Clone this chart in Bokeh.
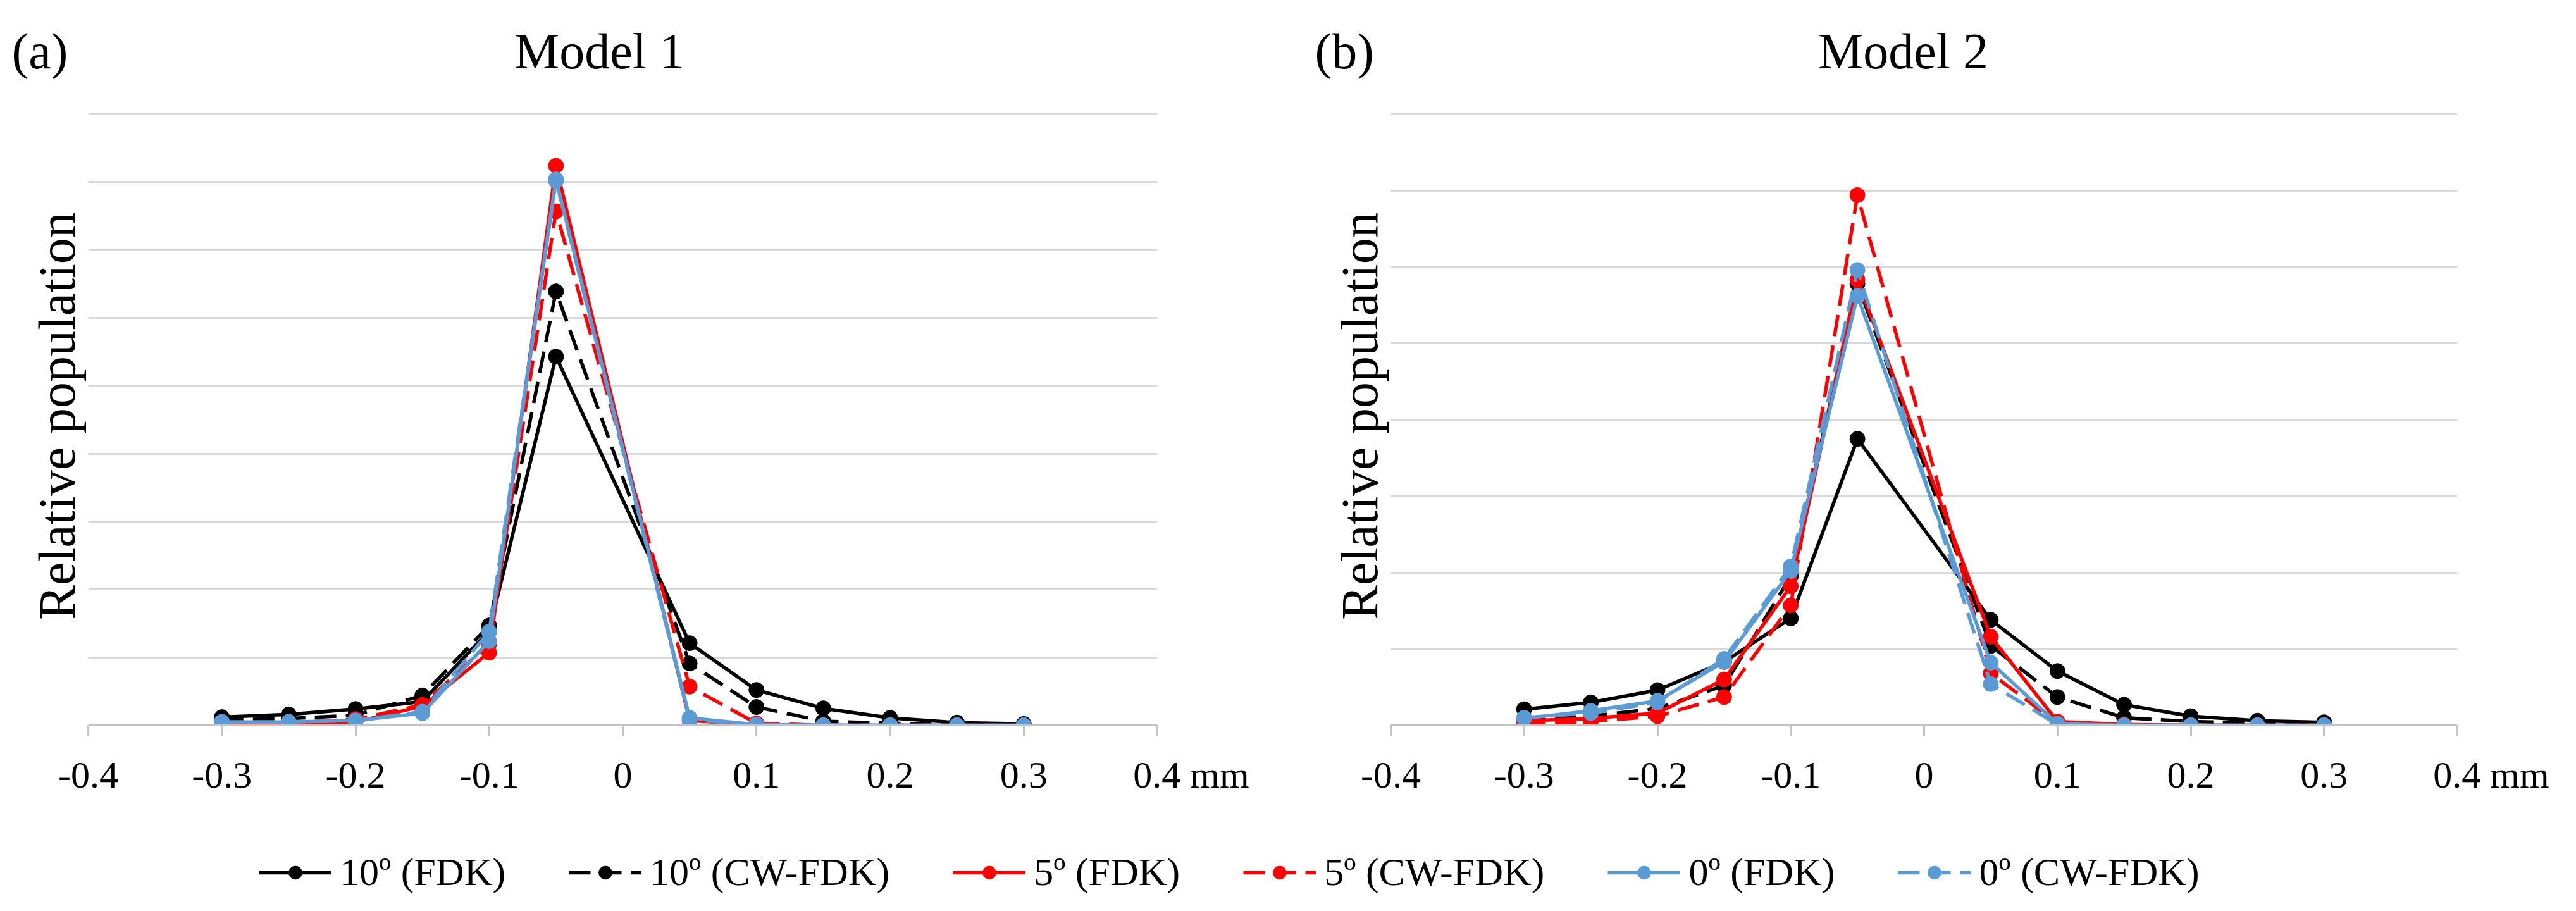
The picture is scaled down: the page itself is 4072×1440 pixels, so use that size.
from bokeh.plotting import figure
from bokeh.models import Range1d, FixedTicker, Legend, LegendItem
from bokeh.layouts import column, row
from bokeh.embed import file_html
from bokeh.resources import INLINE
from bokeh.core.properties import value

FONT = "Liberation Serif"

# ---------------- data ----------------
x_mm = [-0.3, -0.25, -0.2, -0.15, -0.1, -0.05, 0.05, 0.1, 0.15, 0.2, 0.25, 0.3]

series_names = ["10º (FDK)", "10º (CW-FDK)", "5º (FDK)", "5º (CW-FDK)", "0º (FDK)", "0º (CW-FDK)"]

# Model 1 (relative population, %)
m1_10_fdk = [1.2, 1.6, 2.4, 3.5, 13.9, 54.3, 12.1, 5.2, 2.5, 1.1, 0.4, 0.2]
m1_10_cw  = [0.8, 1.0, 1.5, 4.4, 14.7, 63.9, 9.1, 2.7, 0.6, 0.3, 0.1, 0.1]
m1_5_fdk  = [0.2, 0.3, 0.5, 2.8, 10.7, 82.4, 0.7, 0.1, 0.0, 0.0, 0.0, 0.0]
m1_5_cw   = [0.3, 0.4, 0.9, 3.0, 12.0, 75.7, 5.7, 0.3, 0.0, 0.0, 0.0, 0.0]
m1_0_fdk  = [0.5, 0.5, 0.7, 1.8, 12.4, 80.4, 1.1, 0.1, 0.0, 0.0, 0.0, 0.0]
m1_0_cw   = [0.5, 0.5, 0.7, 2.0, 13.8, 80.2, 0.8, 0.1, 0.0, 0.0, 0.0, 0.0]

# Model 2 (relative population, %)
m2_10_fdk = [2.1, 3.0, 4.6, 8.3, 14.0, 37.5, 13.8, 7.1, 2.7, 1.2, 0.6, 0.4]
m2_10_cw  = [0.7, 1.2, 2.2, 5.2, 19.5, 57.8, 10.4, 3.7, 1.0, 0.5, 0.3, 0.2]
m2_5_fdk  = [0.6, 0.9, 1.6, 6.0, 18.2, 58.3, 11.6, 0.5, 0.1, 0.0, 0.0, 0.0]
m2_5_cw   = [0.2, 0.5, 1.2, 3.7, 15.7, 69.4, 6.8, 0.3, 0.0, 0.0, 0.0, 0.0]
m2_0_fdk  = [0.9, 1.9, 3.2, 8.3, 20.2, 56.2, 8.2, 0.2, 0.0, 0.0, 0.0, 0.0]
m2_0_cw   = [1.0, 1.6, 3.0, 8.7, 20.8, 59.6, 5.4, 0.1, 0.0, 0.0, 0.0, 0.0]

model1 = [m1_10_fdk, m1_10_cw, m1_5_fdk, m1_5_cw, m1_0_fdk, m1_0_cw]
model2 = [m2_10_fdk, m2_10_cw, m2_5_fdk, m2_5_cw, m2_0_fdk, m2_0_cw]

panel_letters = ["(a)", "(b)"]
panel_titles = ["Model 1", "Model 2"]
y_axis_title = "Relative population"
x_unit = "mm"

x_ticks = [-0.4, -0.3, -0.2, -0.1, 0, 0.1, 0.2, 0.3, 0.4]
x_tick_labels = ["-0.4", "-0.3", "-0.2", "-0.1", "0", "0.1", "0.2", "0.3", "0.4"]
y_grid_1 = [0, 10, 20, 30, 40, 50, 60, 70, 80, 90]
y_grid_2 = [0, 10, 20, 30, 40, 50, 60, 70, 80]

# ---------------- styles / layout ----------------
colors = ["#000000", "#000000", "#FF0000", "#FF0000", "#5B9BD5", "#5B9BD5"]
dashes = ["solid", "34 15", "solid", "34 15", "solid", "34 15"]
LW = 5.5
MS = 24
GRID = "#D9D9D9"
AXIS = "#C4C4C4"
# non-collapsing padding so that "0.4" stays centred on its tick while " mm" trails it
UNIT_PAD = "\u2007\u2007\u2007\u2009\u200a"

HEADER_H = 150
PANEL_H = 1150
LEGEND_H = 124
GRID_TOP_GAP = 30      # px between header strip and top gridline
GRID_SPAN = 966        # px from top gridline to baseline
HEADROOM = 1.012       # small extra range so the top gridline is not on the frame edge


def add_series(p, data_list):
    out = []
    for ys, c, d in zip(data_list, colors, dashes):
        r1 = p.line(x_mm, ys, line_color=c, line_width=LW, line_dash=d)
        r2 = p.scatter(x_mm, ys, size=MS, fill_color=c, line_color=c, marker="circle")
        out.append((r1, r2))
    return out


def make_panel(data_list, ygrid, width, left, right):
    frame_h = round(GRID_SPAN * HEADROOM)
    top = GRID_TOP_GAP - (frame_h - GRID_SPAN)
    p = figure(width=width, height=PANEL_H, x_range=Range1d(-0.4, 0.4),
               y_range=Range1d(ygrid[0], ygrid[-1] * frame_h / GRID_SPAN),
               output_backend="svg", toolbar_location=None,
               min_border_left=left, min_border_right=right,
               min_border_top=top, min_border_bottom=PANEL_H - top - frame_h)
    p.outline_line_color = None

    xa = p.xaxis[0]
    xa.ticker = FixedTicker(ticks=x_ticks)
    labels = list(x_tick_labels)
    labels[-1] = UNIT_PAD + labels[-1] + " " + x_unit
    xa.major_label_overrides = {t: s for t, s in zip(x_ticks, labels)}
    xa.axis_line_color = AXIS
    xa.axis_line_width = 3
    xa.major_tick_line_color = AXIS
    xa.major_tick_line_width = 3
    xa.major_tick_out = 17
    xa.major_tick_in = 0
    xa.minor_tick_line_color = None
    xa.major_label_text_font = FONT
    xa.major_label_text_font_size = "60px"
    xa.major_label_text_color = "#000000"
    xa.major_label_standoff = 28

    ya = p.yaxis[0]
    ya.ticker = FixedTicker(ticks=[])
    ya.axis_line_color = None
    ya.major_tick_line_color = None
    ya.minor_tick_line_color = None
    ya.axis_label = y_axis_title
    ya.axis_label_text_font = FONT
    ya.axis_label_text_font_size = "82px"
    ya.axis_label_text_font_style = "normal"
    ya.axis_label_text_color = "#000000"
    ya.axis_label_standoff = 4

    p.xgrid.visible = False
    p.ygrid.ticker = FixedTicker(ticks=ygrid)
    p.ygrid.grid_line_color = GRID
    p.ygrid.grid_line_width = 3

    add_series(p, data_list)
    return p


p1 = make_panel(model1, y_grid_1, 2036, 139, 207)
p2 = make_panel(model2, y_grid_2, 2020, 162, 172)

# ---------------- header strip: panel letters and titles ----------------
ph = figure(width=4056, height=HEADER_H, x_range=Range1d(0, 4056), y_range=Range1d(0, HEADER_H),
            output_backend="svg", toolbar_location=None, x_axis_type=None, y_axis_type=None,
            min_border_left=0, min_border_right=0, min_border_top=0, min_border_bottom=0)
ph.outline_line_color = None
ph.xgrid.visible = False
ph.ygrid.visible = False
letter_x = [18, 2078]
title_x = [947, 3008]
head_y = [HEADER_H - 80, HEADER_H - 80]
ph.text(x=letter_x, y=head_y, text=panel_letters, text_font=value(FONT), text_font_size="80px",
        text_align="left", text_baseline="middle", text_color="#000000")
ph.text(x=title_x, y=head_y, text=panel_titles, text_font=value(FONT), text_font_size="80px",
        text_align="center", text_baseline="middle", text_color="#000000")

# ---------------- legend strip ----------------
pl = figure(width=4056, height=LEGEND_H, x_range=Range1d(5, 6), y_range=Range1d(0, 1),
            output_backend="svg", toolbar_location=None,
            x_axis_type=None, y_axis_type=None,
            min_border_left=0, min_border_right=0, min_border_top=0, min_border_bottom=0)
pl.outline_line_color = None
pl.xgrid.visible = False
pl.ygrid.visible = False
rends = add_series(pl, model1)
items = [LegendItem(label=n, renderers=[r1, r2]) for n, (r1, r2) in zip(series_names, rends)]
leg = Legend(items=items, orientation="horizontal", location=(409, 10),
             glyph_width=115, glyph_height=52, label_standoff=13, spacing=100,
             padding=0, margin=0, border_line_color=None, background_fill_alpha=0,
             label_text_font=FONT, label_text_font_size="62px", label_text_color="#000000")
pl.add_layout(leg, "center")

layout = column(ph, row(p1, p2), pl)

with open("out.html", "w") as f:
    f.write(file_html(layout, INLINE))
